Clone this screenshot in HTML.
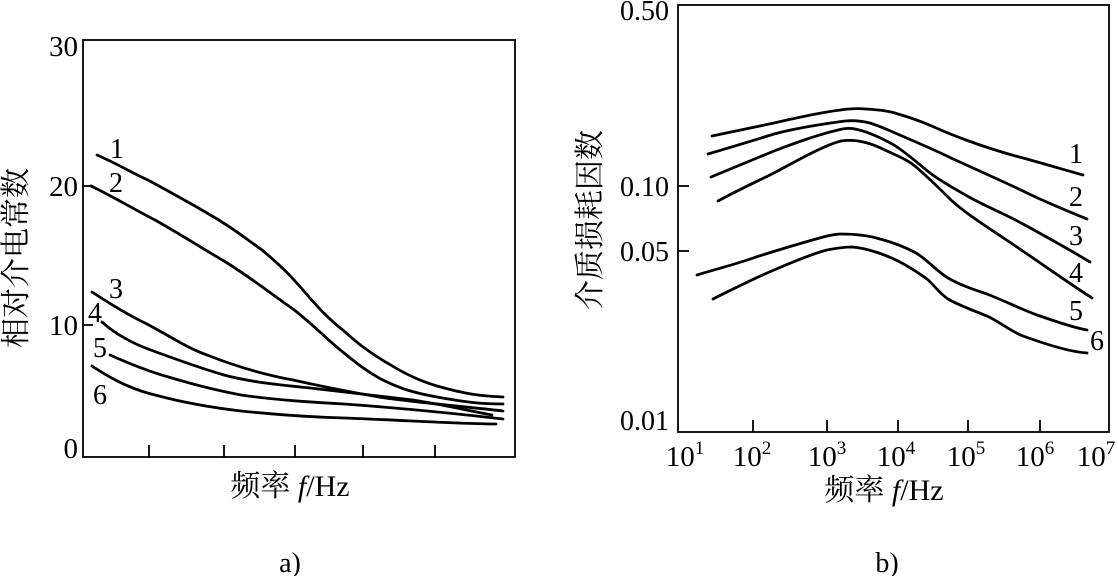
<!DOCTYPE html>
<html><head><meta charset="utf-8"><style>
html,body{margin:0;padding:0;background:#fff;}
svg{display:block;}
text{font-family:"Liberation Serif","Noto Serif CJK SC",serif;fill:#000;}
.c{fill:none;stroke:#000;stroke-width:2.8;stroke-linejoin:round;stroke-linecap:round;}
</style></head><body>
<svg width="1118" height="576" viewBox="0 0 1118 576" xmlns="http://www.w3.org/2000/svg">
<!-- Panel a -->
<rect x="83" y="40" width="432" height="417" fill="none" stroke="#000" stroke-width="1.8"/>
<g stroke="#000" stroke-width="1.8">
<line x1="149" y1="457" x2="149" y2="445"/><line x1="224" y1="457" x2="224" y2="445"/>
<line x1="295" y1="457" x2="295" y2="445"/><line x1="363" y1="457" x2="363" y2="445"/>
<line x1="435" y1="457" x2="435" y2="445"/>
<line x1="83" y1="186" x2="93" y2="186"/><line x1="83" y1="325" x2="93" y2="325"/>
</g>
<g font-size="29" text-anchor="end">
<text x="78" y="56">30</text><text x="78" y="196">20</text><text x="78" y="335">10</text><text x="78" y="458">0</text>
</g>
<text transform="translate(26,258) rotate(-90)" font-size="30" text-anchor="middle">相对介电常数</text>
<text x="290" y="496" font-size="30" text-anchor="middle">频率 <tspan font-style="italic">f</tspan>/Hz</text>
<text x="290" y="572" font-size="28" text-anchor="middle">a)</text>
<path class="c" d="M97,155 C120,165 130,172 148,180 C170,192 190,203 207,213 C230,226 245,238 262,250 C280,265 290,275 303,290 C320,310 330,320 344,331 C360,346 375,356 389,364 C405,374 420,381 437,386 C465,394 480,396 503,397"/>
<path class="c" d="M91,186 C110,195 130,207 155,220 C180,234 200,247 224,261 C250,277 270,293 293,309 C315,326 325,338 344,353 C355,362 365,370 379,378 C400,389 415,393 437,397 C465,402 480,404 503,404"/>
<path class="c" d="M92,292 C115,307 130,316 145,323 C170,336 185,347 207,355 C235,366 265,375 293,380 C320,386 350,392 379,397 C420,403 470,407 503,411"/>
<path class="c" d="M102,322 C115,334 130,342 148,349 C175,359 200,368 224,375 C250,382 280,385 310,388 C345,392 380,396 413,400 C445,405 470,411 492,415"/>
<path class="c" d="M110,355 C130,364 150,372 172,378 C195,385 220,391 241,395 C275,400 310,402 344,404 C400,408 460,414 503,419"/>
<path class="c" d="M92,366 C110,378 130,389 155,395 C185,403 215,408 241,411 C280,415 310,417 344,418 C400,420 460,424 496,424"/>
<g font-size="28" text-anchor="middle">
<text x="117" y="158">1</text><text x="116" y="192">2</text><text x="116" y="298">3</text>
<text x="95" y="322">4</text><text x="100" y="357">5</text><text x="100" y="404">6</text>
</g>
<!-- Panel b -->
<rect x="678" y="5" width="431" height="427" fill="none" stroke="#000" stroke-width="1.8"/>
<g stroke="#000" stroke-width="1.8">
<line x1="753" y1="432" x2="753" y2="420"/><line x1="827" y1="432" x2="827" y2="420"/>
<line x1="898" y1="432" x2="898" y2="420"/><line x1="968" y1="432" x2="968" y2="420"/>
<line x1="1040" y1="432" x2="1040" y2="420"/>
<line x1="678" y1="186" x2="689" y2="186"/><line x1="678" y1="251" x2="689" y2="251"/>
</g>
<g font-size="28" text-anchor="end">
<text x="669" y="20">0.50</text><text x="669" y="196">0.10</text><text x="669" y="261">0.05</text><text x="669" y="430">0.01</text>
</g>
<g font-size="29" text-anchor="middle">
<text x="685" y="466">10<tspan font-size="19" dy="-12">1</tspan></text>
<text x="752" y="466">10<tspan font-size="19" dy="-12">2</tspan></text>
<text x="827" y="466">10<tspan font-size="19" dy="-12">3</tspan></text>
<text x="896" y="466">10<tspan font-size="19" dy="-12">4</tspan></text>
<text x="966" y="466">10<tspan font-size="19" dy="-12">5</tspan></text>
<text x="1035" y="466">10<tspan font-size="19" dy="-12">6</tspan></text>
<text x="1096" y="466">10<tspan font-size="19" dy="-12">7</tspan></text>
</g>
<text transform="translate(600,220) rotate(-90)" font-size="30" text-anchor="middle">介质损耗因数</text>
<text x="884" y="500" font-size="30" text-anchor="middle">频率 <tspan font-style="italic">f</tspan>/Hz</text>
<text x="887" y="572" font-size="28" text-anchor="middle">b)</text>
<path class="c" d="M712,136 C740,130 755,127 774,123 C800,117 815,114 827,112 C845,109 855,108 866,109 C880,110 890,111 898,114 C912,118 925,123 934,127 C945,132 955,136 966,140 C985,147 1000,152 1023,158 C1045,164 1065,170 1083,175"/>
<path class="c" d="M708,154 C735,146 755,140 774,134 C800,127 830,123 845,121 C855,120 862,121 870,123 C882,127 893,132 902,136 C918,143 935,150 951,158 C975,169 1000,180 1023,191 C1045,202 1070,212 1087,219"/>
<path class="c" d="M711,177 C735,167 755,159 774,151 C800,141 825,133 838,130 C845,128 850,128 855,129 C870,132 885,140 894,145 C908,154 920,165 930,173 C942,182 955,189 969,197 C985,206 1005,214 1023,224 C1045,236 1075,253 1090,262"/>
<path class="c" d="M718,201 C740,189 760,180 774,173 C800,159 825,145 841,141 C860,138 877,146 887,151 C900,157 908,160 916,167 C930,179 940,189 951,200 C965,213 990,229 1005,239 C1035,259 1070,284 1092,298"/>
<path class="c" d="M697,275 C720,268 740,263 756,257 C775,251 795,245 809,241 C820,238 832,234 841,234 C855,234 870,236 880,239 C895,243 905,247 916,253 C928,260 935,270 948,278 C960,285 975,290 987,294 C1005,301 1025,311 1040,316 C1060,323 1075,328 1087,330"/>
<path class="c" d="M713,299 C735,288 755,278 774,270 C795,261 815,253 827,250 C837,248 845,247 852,247 C868,248 888,256 898,261 C910,267 920,274 927,279 C935,286 940,294 948,299 C960,306 975,311 987,316 C1000,322 1010,331 1023,336 C1045,344 1070,352 1087,353"/>
<g font-size="28" text-anchor="middle">
<text x="1076" y="163">1</text><text x="1076" y="206">2</text><text x="1076" y="245">3</text>
<text x="1076" y="282">4</text><text x="1076" y="320">5</text><text x="1097" y="350">6</text>
</g>
</svg>
</body></html>
